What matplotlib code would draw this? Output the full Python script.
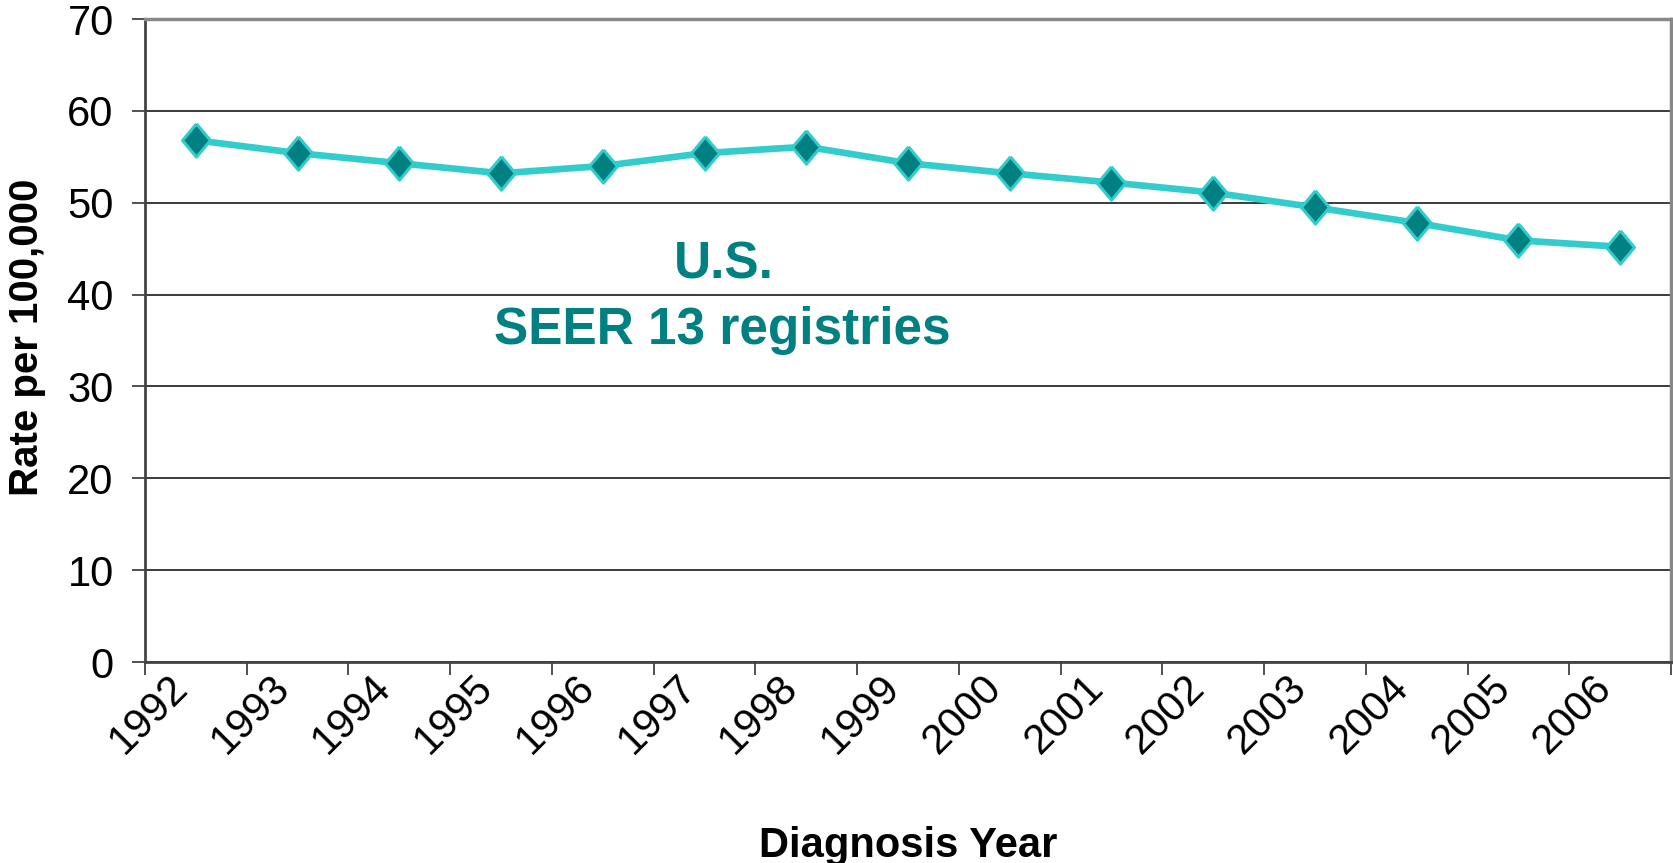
import matplotlib

matplotlib.use("Agg")
import matplotlib.pyplot as plt

plt.rcParams["font.family"] = ["Liberation Sans", "DejaVu Sans"]

years = ["1992", "1993", "1994", "1995", "1996", "1997", "1998", "1999",
         "2000", "2001", "2002", "2003", "2004", "2005", "2006"]
rates = [56.8, 55.4, 54.3, 53.2, 54.0, 55.4, 56.1, 54.3,
         53.2, 52.2, 51.1, 49.5, 47.8, 45.9, 45.2]
y_ticks = [0, 10, 20, 30, 40, 50, 60, 70]

TEAL = "#008080"
AQUA = "#33CCCC"
# Excel 的菱形略高於寬
DIAMOND = [(0, 1), (0.84, 0), (0, -1), (-0.84, 0), (0, 1)]

fig = plt.figure(figsize=(16.74, 8.63), dpi=100)
ax = fig.add_axes([145 / 1674, 1 - 662 / 863, 1526 / 1674, 643 / 863])

x = range(len(years))
ax.plot(x, rates, color=AQUA, linewidth=4.8, marker=DIAMOND,
        markersize=24, markerfacecolor=TEAL, markeredgecolor=AQUA,
        markeredgewidth=2.2, zorder=3)

ax.set_xlim(-0.5, len(years) - 0.5)
ax.set_ylim(0, 70)

# 格線
ax.set_yticks(y_ticks)
ax.yaxis.grid(True, color="#1a1a1a", linewidth=1.2)
ax.set_axisbelow(True)
ax.tick_params(axis="y", direction="out", length=9.5, width=1.2,
               color="#333333", pad=13, labelsize=30)

# 類別軸：刻度在邊界，標籤在中間
ax.set_xticks([i - 0.5 for i in range(len(years) + 1)], minor=True)
ax.set_xticks(list(x))
ax.set_xticklabels(years, rotation=45, ha="right", fontsize=30)
ax.tick_params(axis="x", which="major", length=0, pad=4)
ax.tick_params(axis="x", which="minor", direction="out", length=9,
               width=1.2, color="#333333")

for side in ("left", "bottom"):
    ax.spines[side].set_color("#444444")
    ax.spines[side].set_linewidth(2)
for side in ("top", "right"):
    ax.spines[side].set_color("#888888")
    ax.spines[side].set_linewidth(2.5)

ax.set_ylabel("Rate per 100,000", fontsize=29, fontweight="bold")
ax.yaxis.set_label_coords(-0.0775, 0.505)
ax.yaxis.label.set_va("center")
ax.set_xlabel("Diagnosis Year", fontsize=30, fontweight="bold")
ax.xaxis.set_label_coords(0.5, -0.303)
ax.xaxis.label.set_va("baseline")

ax.text(0.379, 0.597, "U.S.", transform=ax.transAxes, ha="center",
        va="baseline", fontsize=37, fontweight="bold", color=TEAL)
ax.text(0.378, 0.4946, "SEER 13 registries", transform=ax.transAxes,
        ha="center", va="baseline", fontsize=37, fontweight="bold", color=TEAL)

fig.savefig("out.png", dpi=100)
